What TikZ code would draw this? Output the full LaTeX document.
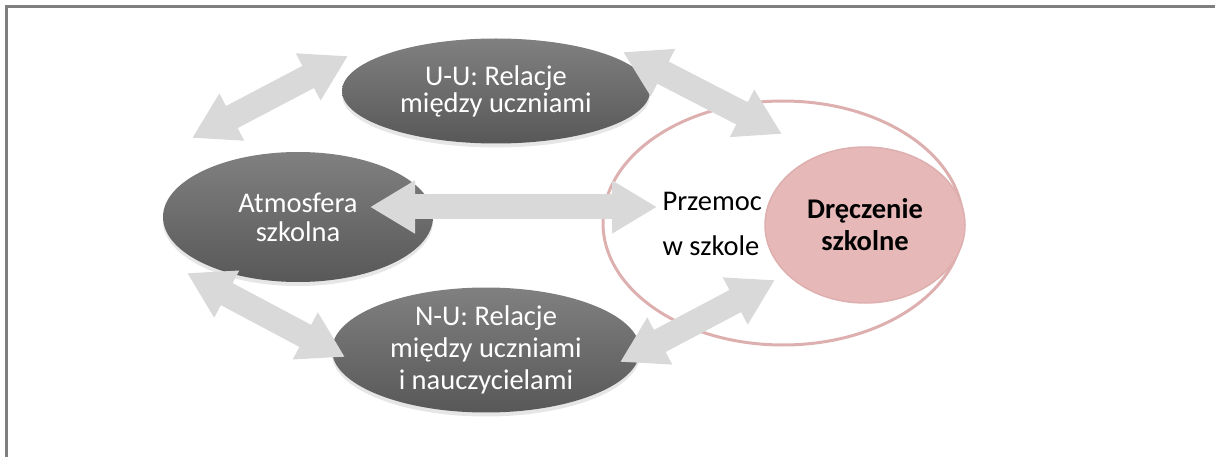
\documentclass[tikz,border=0pt]{standalone}
\usepackage{fontspec}
\setmainfont{Carlito}
\usetikzlibrary{shapes.geometric,arrows.meta,shadows}
\definecolor{framegray}{HTML}{7F7F7F}
\definecolor{arrowgray}{HTML}{D9D9D9}
\definecolor{ovaltop}{HTML}{808080}
\definecolor{ovalbottom}{HTML}{585858}
\definecolor{rosefill}{HTML}{E6B9B8}
\definecolor{roseline}{HTML}{DDB0AF}
\tikzset{
    relation/.style = {ellipse, top color=ovaltop, bottom color=ovalbottom, draw=none,
        text=white, align=center, inner sep=0pt,
        drop shadow={shadow xshift=0pt, shadow yshift=-4pt, opacity=0.2}},
    bigarrow/.style = {draw=arrowgray, line width=25pt,
        {Triangle[width=50pt,length=45pt]}-{Triangle[width=50pt,length=45pt]}},
    txt/.style = {font=\fontsize{28.5}{#1}\selectfont}
}

\begin{document}
\begin{tikzpicture}[x=1pt,y=-1pt]
    \useasboundingbox (0,0) rectangle (1215,457);
    \draw [framegray, line width=2.5pt] (1215,6.5) -- (6.5,6.5) -- (6.5,457);

    \node[relation, txt=27, minimum width=308, minimum height=105] (UU) at (496,91)
        {U-U: Relacje\\między uczniami};
    \node[relation, txt=29, minimum width=270, minimum height=130] (Atm) at (298,217)
        {Atmosfera\\szkolna};
    \node[relation, txt=32, minimum width=308, minimum height=106] (NU) at (486,350)
        {N-U: Relacje\\między uczniami\\i nauczycielami};

    \node[ellipse, draw=roseline, line width=3pt, minimum width=360, minimum height=244] (Pws) at (783,223) {};
    \node[txt=45, align=left, anchor=west] (Pwstext) at (659,224) {Przemoc\\w szkole};
    \node[ellipse, fill=rosefill, draw=roseline, line width=1.5pt, font={\fontsize{28.5}{32}\selectfont\bfseries},
        align=center, minimum width=200, minimum height=156] (Dr) at (865,225) {Dręczenie\\szkolne};

    \coordinate(Atmn) at (192,138);
    \coordinate(UUw) at (348,56);
    \coordinate(UUe) at (623,52);
    \coordinate(Pwsn) at (782,134);
    \coordinate(Atme) at (370,207);
    \coordinate(Pwsw) at (657,207);
    \coordinate(Atms) at (187,273);
    \coordinate(NUw) at (345,357);
    \coordinate(NUe) at (620,362);
    \coordinate(Drw) at (775,280);

    \draw [bigarrow] (Atmn)--(UUw);
    \draw [bigarrow] (UUe)--(Pwsn);
    \draw [bigarrow] (Atme)--(Pwsw);
    \draw [bigarrow] (Atms)--(NUw);
    \draw [bigarrow] (NUe)--(Drw);

\end{tikzpicture}
\end{document}
